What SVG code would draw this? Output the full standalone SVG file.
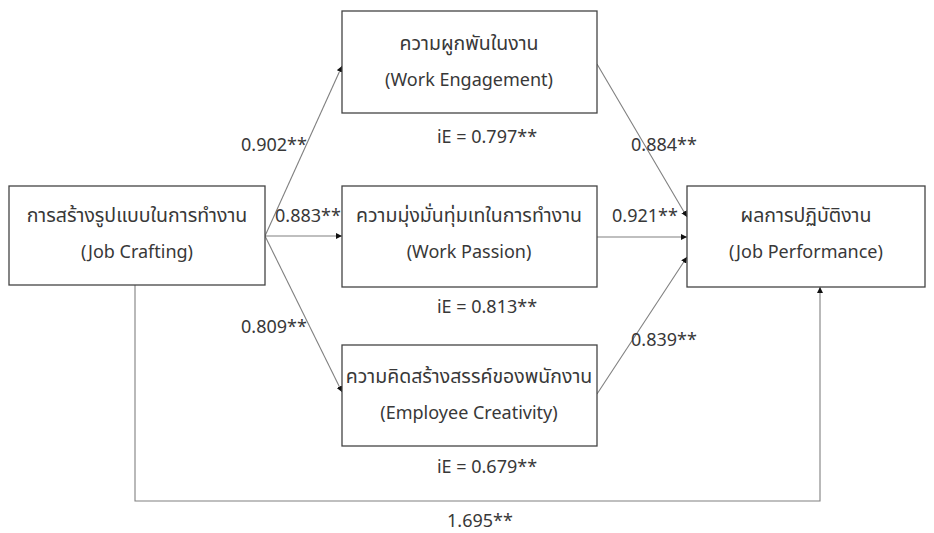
<svg xmlns="http://www.w3.org/2000/svg" width="934" height="533" viewBox="0 0 934 533">
<defs>
<marker id="ah" viewBox="0 0 10 10" refX="10" refY="5" markerWidth="6" markerHeight="6" markerUnits="userSpaceOnUse" orient="auto">
<path d="M0,0 L10,5 L0,10 z" fill="#111"/>
</marker>
<style>
.box{fill:#fff;stroke:#444;stroke-width:1.3}
.t{font-family:"Noto Sans","Noto Sans Thai","Leelawadee UI",Tahoma,"DejaVu Sans",sans-serif;font-size:18px;fill:#383838;text-anchor:middle}
.th{font-size:19.5px}
.c{fill:none;stroke:#808080;stroke-width:1.1}
.ca{fill:none;stroke:#808080;stroke-width:1.1;marker-end:url(#ah)}
</style>
</defs>
<rect width="934" height="533" fill="#fff"/>
<g id="connectors">
<line class="ca" x1="265" y1="236" x2="342" y2="66"/>
<line class="ca" x1="265" y1="236" x2="342" y2="236"/>
<line class="ca" x1="265" y1="236" x2="342" y2="392"/>
<line class="ca" x1="597" y1="64" x2="687" y2="217"/>
<line class="ca" x1="597" y1="237" x2="687" y2="237"/>
<line class="ca" x1="597" y1="394" x2="687" y2="257"/>
<polyline class="ca" points="135,285 135,501 820,501 820,287"/>
</g>
<g id="job-crafting">
<rect class="box" x="9" y="186" width="256" height="99"/>
<text class="t th" x="137" y="222">การสร้างรูปแบบในการทำงาน</text>
<text class="t" x="137" y="258">(Job Crafting)</text>
</g>
<g id="work-engagement">
<rect class="box" x="342" y="11" width="255" height="102"/>
<text class="t th" x="469" y="50">ความผูกพันในงาน</text>
<text class="t" x="469" y="86">(Work Engagement)</text>
</g>
<g id="work-passion">
<rect class="box" x="342" y="186" width="255" height="101"/>
<text class="t th" x="469" y="222">ความมุ่งมั่นทุ่มเทในการทำงาน</text>
<text class="t" x="469" y="258">(Work Passion)</text>
</g>
<g id="employee-creativity">
<rect class="box" x="342" y="345" width="255" height="101"/>
<text class="t th" x="469" y="383">ความคิดสร้างสรรค์ของพนักงาน</text>
<text class="t" x="469" y="419">(Employee Creativity)</text>
</g>
<g id="job-performance">
<rect class="box" x="687" y="186" width="238" height="101"/>
<text class="t th" x="806" y="222">ผลการปฏิบัติงาน</text>
<text class="t" x="806" y="258">(Job Performance)</text>
</g>
<g id="labels">
<text class="t" x="274" y="151">0.902**</text>
<text class="t" x="308" y="222">0.883**</text>
<text class="t" x="274" y="333">0.809**</text>
<text class="t" x="487" y="143">iE = 0.797**</text>
<text class="t" x="487" y="313">iE = 0.813**</text>
<text class="t" x="487" y="473">iE = 0.679**</text>
<text class="t" x="664" y="151">0.884**</text>
<text class="t" x="645" y="222">0.921**</text>
<text class="t" x="664" y="346">0.839**</text>
<text class="t" x="480" y="527">1.695**</text>
</g>
</svg>
